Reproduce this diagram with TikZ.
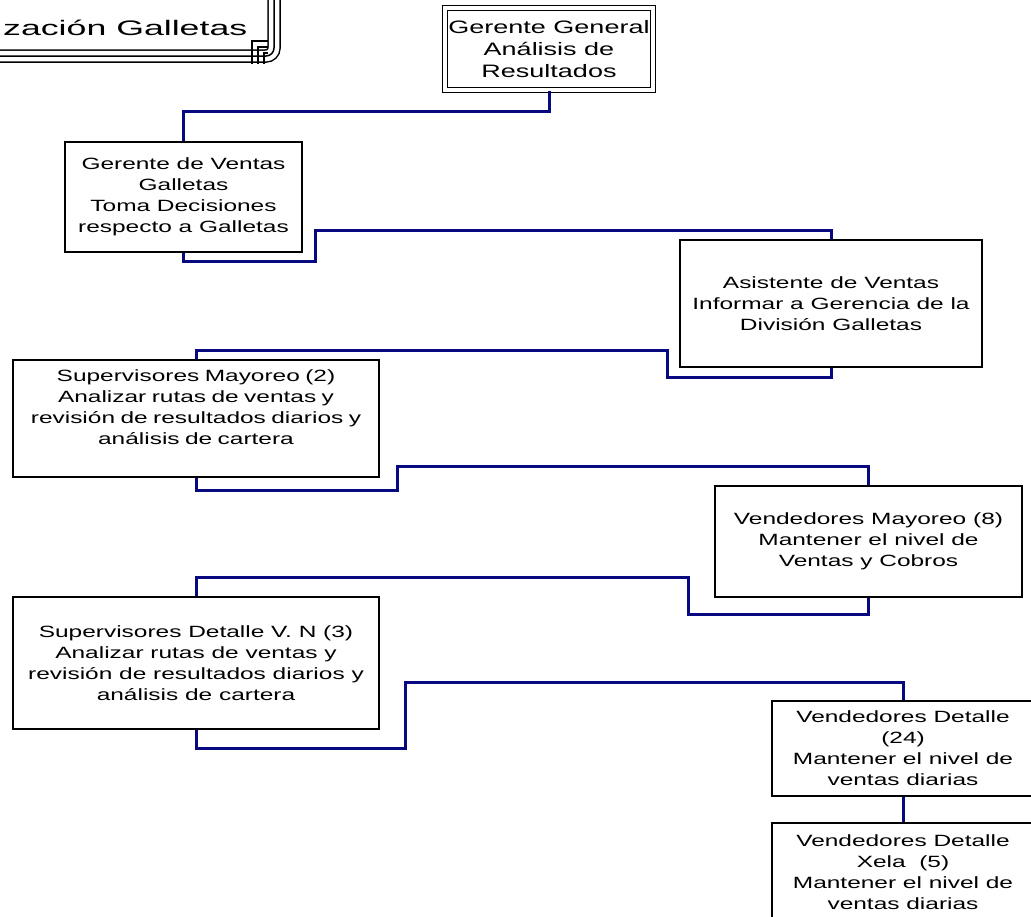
\documentclass[tikz,border=0pt]{standalone}
\usepackage{fontspec}
\setmainfont{Liberation Sans}[FakeStretch=1.5]
\newfontfamily\titlefont{Liberation Sans}[FakeStretch=1.7]
\usepackage{tikz}
\usetikzlibrary{positioning, calc}
\definecolor{LINKBLUE}{RGB}{8,8,128}
\tikzset{
	%
	% Vertical -> horizontal -> vertical line.
	%
	|-|/.style={
		to path={
			(\tikztostart) |- ($(\tikztostart)!#1!(\tikztotarget)$) -| (\tikztotarget)
			\tikztonodes
		}
	},
	|-|/.default=0.5,  % mid-point default.
	%
	% Three parallel lines (title frame).
	%
	TRIPLE/.style={
		draw=black, line width=13.5pt,
		postaction={draw=white, line width=10.5pt},
		postaction={draw=black, line width=1.5pt}
	},
}
\tikzstyle{BOX}  = [draw=black,       % color for LINES
                    line width=1.5pt, % control line width.
                    align=center,
                    rectangle,        % Box shape
                    font=\fontsize{16.3}{21}\selectfont]
\tikzstyle{BOXD} = [BOX,
                    double,           % double border
                    double distance=3.5pt,
                    line width=1.3pt]
\tikzstyle{LINK} = [draw=LINKBLUE, line width=3pt]

\begin{document}
\begin{tikzpicture}[x=1pt, y=-1pt]
		\useasboundingbox (0,0) rectangle (1031,916);
		\clip (0,0) rectangle (1031,916);

		% Title frame
		\draw[TRIPLE, rounded corners=8pt] (274,-20) |- (-20,56);
		\foreach \d in {-6,0,6}
			\draw[black, line width=1.5pt] (258+\d,64) |- (268,47+\d);
		\node(title)[anchor=base west, inner sep=0pt, font=\titlefont\fontsize{21}{25}\selectfont] at (3,35)
		{
			zación Galletas
		};



		% Management
		\node(gg)[BOXD, minimum width=206pt, minimum height=82pt, font=\fontsize{18}{22}\selectfont] at (549,49)
		{
			Gerente General\\
			Análisis de\\
			Resultados
		};
		\node(gv)[BOX, below of=gg, node distance=148pt, xshift=-365.5pt,
		minimum width=237pt, minimum height=110pt]
		{
			Gerente de Ventas\\
			Galletas\\
			Toma Decisiones\\
			respecto a Galletas
		};
		\node(as)[BOX, right of=gv, node distance=647.5pt, yshift=-106.5pt,
		minimum width=302pt, minimum height=127pt]
		{
			Asistente de Ventas\\
			Informar a Gerencia de la\\
			División Galletas
		};



		% Mayoreo
		\node(sm)[BOX, left of=as, node distance=635pt, yshift=-115pt,
		minimum width=366pt, minimum height=117pt, text width=350pt, text depth=86pt]
		{
			Supervisores Mayoreo (2)\\
			Analizar rutas de ventas y\\
			revisión de resultados diarios y\\
			análisis de cartera
		};
		\node(vm)[BOX, right of=sm, node distance=672.5pt, yshift=-123pt,
		minimum width=307pt, minimum height=111pt]
		{
			Vendedores Mayoreo (8)\\
			Mantener el nivel de\\
			Ventas y Cobros
		};



		% Detalle
		\node(sd)[BOX, below of=sm, node distance=244.5pt,
		minimum width=366pt, minimum height=132pt]
		{
			Supervisores Detalle V. N (3)\\
			Analizar rutas de ventas y\\
			revisión de resultados diarios y\\
			análisis de cartera
		};
		\node(vd)[BOX, right of=sd, node distance=707pt, yshift=-85.5pt,
		minimum width=262pt, minimum height=95pt]
		{
			Vendedores Detalle\\
			(24)\\
			Mantener el nivel de\\
			ventas diarias
		};
		\node(vx)[BOX, below of=vd, node distance=123.5pt,
		minimum width=262pt, minimum height=98pt]
		{
			Vendedores Detalle\\
			Xela\ \ (5)\\
			Mantener el nivel de\\
			ventas diarias
		};



		% Connections
		\draw[LINK] (gg.south) to [|-|=0.41] (gv.north);
		\draw[LINK] (gv.south) -- ++(0,9) -- ++(132,0) |- ($(as.north)+(0,-9)$) -- (as.north);
		\draw[LINK] (as.south) -- ++(0,10) -- ++(-164,0) |- ($(sm.north)+(0,-9)$) -- (sm.north);
		\draw[LINK] (sm.south) -- ++(0,13) -- ++(201,0) |- ($(vm.north)+(0,-19)$) -- (vm.north);
		\draw[LINK] (vm.south) -- ++(0,17) -- ++(-180.5,0) |- ($(sd.north)+(0,-19)$) -- (sd.north);
		\draw[LINK] (sd.south) -- ++(0,19) -- ++(209,0) |- ($(vd.north)+(0,-18)$) -- (vd.north);
		\draw[LINK] (vd.south) -- (vx.north);

\end{tikzpicture}
\end{document}
